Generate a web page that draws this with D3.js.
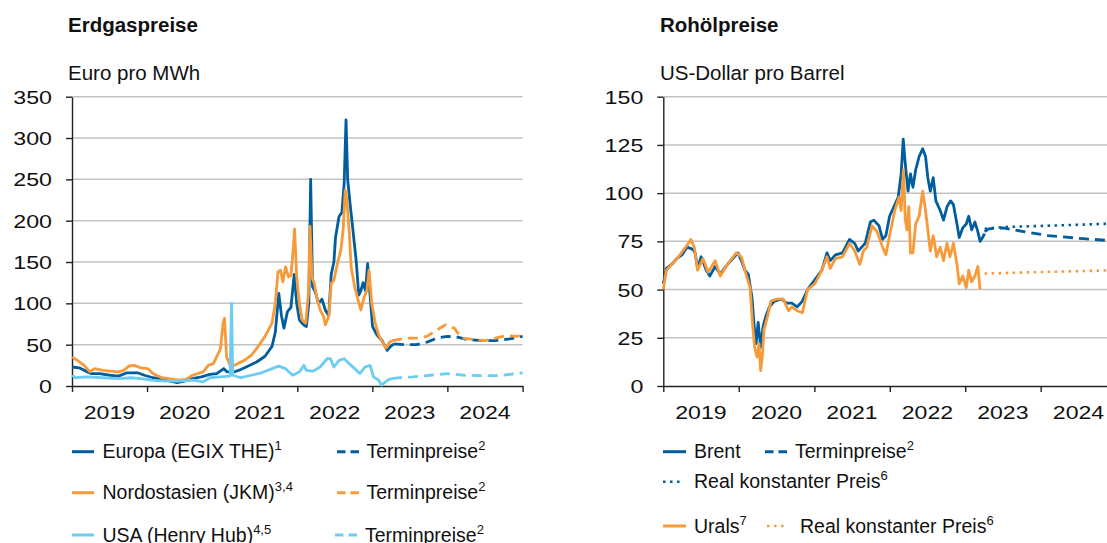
<!DOCTYPE html>
<html><head><meta charset="utf-8">
<script src="https://cdn.jsdelivr.net/npm/d3@7"></script>
<style>
html,body{margin:0;padding:0;background:#fff;overflow:hidden}
svg text{font-family:"Liberation Sans",Arial,sans-serif;fill:#111}
</style></head><body>
<svg id="c" width="1107" height="543"></svg>
<script>
// ---------- DATA ----------
const yearBounds = ["2019-01-01","2020-01-01","2021-01-01","2022-01-01","2023-01-01","2024-01-01","2025-01-01"];
const yearLabels = ["2019","2020","2021","2022","2023","2024"];
const gasTicks = [0,50,100,150,200,250,300,350];
const oilTicks = [0,25,50,75,100,125,150];

// Erdgas, Euro pro MWh
const europa = [["2019-01-02",23],["2019-02-05",22],["2019-03-10",18],["2019-04-03",15],["2019-05-15",15],["2019-07-04",13],["2019-08-15",12],["2019-09-26",16],["2019-11-16",16],["2019-12-19",13],["2020-01-30",10],["2020-03-13",8],["2020-04-23",6],["2020-05-27",4],["2020-06-29",6],["2020-08-10",9],["2020-09-21",11],["2020-11-02",14],["2020-12-05",15],["2021-01-08",21],["2021-01-25",17],["2021-02-28",17],["2021-04-01",20],["2021-05-05",24],["2021-06-17",29],["2021-07-28",36],["2021-08-31",48],["2021-09-16",65],["2021-10-03",112],["2021-10-16",85],["2021-10-28",70],["2021-11-14",90],["2021-12-01",95],["2021-12-17",135],["2021-12-29",100],["2022-01-11",80],["2022-01-28",75],["2022-02-14",72],["2022-02-26",100],["2022-03-07",250],["2022-03-16",120],["2022-03-28",115],["2022-04-14",100],["2022-05-01",105],["2022-05-17",92],["2022-06-03",85],["2022-06-15",135],["2022-06-28",150],["2022-07-06",180],["2022-07-23",205],["2022-08-06",210],["2022-08-17",245],["2022-08-26",322],["2022-09-03",250],["2022-09-15",220],["2022-09-28",190],["2022-10-15",150],["2022-10-27",110],["2022-11-06",115],["2022-11-17",125],["2022-11-29",115],["2022-12-09",148],["2022-12-21",110],["2023-01-02",72],["2023-01-23",62],["2023-02-17",55],["2023-03-14",43],["2023-03-31",48],["2023-04-16",51]];
const europaTermin = [["2023-04-16",51],["2023-06-06",50],["2023-08-03",50],["2023-09-23",53],["2023-11-12",58],["2024-01-01",60],["2024-02-20",59],["2024-04-11",56],["2024-06-16",55],["2024-08-22",55],["2024-10-30",57],["2025-01-01",60]];
const jkm = [["2019-01-02",35],["2019-01-27",31],["2019-03-01",25],["2019-03-29",17],["2019-04-20",21],["2019-06-01",19],["2019-07-04",18],["2019-08-15",17],["2019-09-10",19],["2019-10-05",24],["2019-10-30",25],["2019-12-03",22],["2020-01-05",21],["2020-01-30",15],["2020-03-13",10],["2020-04-15",9],["2020-06-04",7],["2020-07-08",8],["2020-08-10",13],["2020-09-30",17],["2020-10-25",25],["2020-11-19",27],["2020-12-23",45],["2021-01-05",76],["2021-01-12",82],["2021-01-22",35],["2021-02-11",23],["2021-03-16",27],["2021-04-18",31],["2021-05-22",37],["2021-06-25",48],["2021-07-28",60],["2021-08-31",76],["2021-09-16",100],["2021-09-29",138],["2021-10-11",140],["2021-10-23",126],["2021-11-05",144],["2021-11-19",132],["2021-12-01",134],["2021-12-12",165],["2021-12-19",190],["2021-12-29",132],["2022-01-11",100],["2022-01-25",80],["2022-02-11",76],["2022-02-24",112],["2022-03-04",193],["2022-03-13",132],["2022-03-25",124],["2022-04-05",108],["2022-04-22",92],["2022-05-09",84],["2022-05-17",74],["2022-06-03",84],["2022-06-15",124],["2022-06-28",128],["2022-07-15",148],["2022-08-01",165],["2022-08-12",189],["2022-08-22",237],["2022-08-30",225],["2022-09-10",189],["2022-09-20",144],["2022-10-07",120],["2022-10-24",104],["2022-11-06",92],["2022-11-23",108],["2022-12-06",116],["2022-12-16",140],["2022-12-29",100],["2023-01-15",76],["2023-02-01",62],["2023-02-17",54],["2023-03-09",46],["2023-03-23",52],["2023-04-07",55]];
const jkmTermin = [["2023-04-07",55],["2023-06-15",58],["2023-08-12",58],["2023-09-23",60],["2023-11-12",68],["2023-12-24",74],["2024-02-04",70],["2024-03-08",58],["2024-05-14",56],["2024-07-03",55],["2024-08-22",58],["2024-10-12",61],["2024-12-01",60],["2025-01-01",61]];
const henryHub = [["2019-01-02",13],["2019-01-19",10],["2019-03-10",11],["2019-06-01",10],["2019-08-24",9],["2019-10-13",10],["2019-12-03",9],["2020-01-22",7],["2020-03-30",6],["2020-06-04",6],["2020-08-10",7],["2020-09-30",5],["2020-11-02",10],["2020-12-23",11],["2021-02-08",12],["2021-02-15",100],["2021-02-21",13],["2021-04-01",10],["2021-05-22",13],["2021-07-11",16],["2021-08-31",21],["2021-10-03",24],["2021-11-05",21],["2021-12-09",13],["2022-01-11",17],["2022-02-02",25],["2022-02-14",19],["2022-03-19",18],["2022-04-22",23],["2022-05-26",33],["2022-06-11",33],["2022-06-28",23],["2022-07-23",31],["2022-08-17",33],["2022-09-11",27],["2022-10-07",21],["2022-11-01",15],["2022-11-26",23],["2022-12-21",25],["2023-01-07",11],["2023-02-01",7],["2023-02-14",1],["2023-03-06",5],["2023-03-23",8],["2023-04-07",9]];
const henryHubTermin = [["2023-04-07",9],["2023-05-12",10],["2023-07-17",11],["2023-10-08",13],["2024-01-01",15],["2024-03-24",13],["2024-06-16",12.5],["2024-09-09",12.5],["2025-01-01",16]];

// Rohöl, US-Dollar pro Barrel
const brent = [["2019-01-01",53],["2019-01-16",61],["2019-02-10",63],["2019-03-07",66],["2019-04-01",68],["2019-04-26",72],["2019-05-22",71],["2019-06-04",69],["2019-06-16",61],["2019-07-03",67],["2019-07-28",60],["2019-08-14",57],["2019-09-09",62],["2019-10-04",58],["2019-11-07",63],["2019-12-11",67],["2019-12-28",69],["2020-01-14",65],["2020-01-31",60],["2020-02-16",58],["2020-03-05",46],["2020-03-15",32],["2020-03-25",22],["2020-04-04",33],["2020-04-16",20],["2020-04-28",31],["2020-05-11",36],["2020-05-28",41],["2020-06-22",44],["2020-07-26",45],["2020-08-20",43],["2020-09-14",43],["2020-10-10",41],["2020-11-04",44],["2020-11-29",50],["2021-01-03",55],["2021-02-06",60],["2021-03-03",69],["2021-03-19",65],["2021-04-13",68],["2021-05-17",69],["2021-06-20",76],["2021-07-15",74],["2021-08-01",70],["2021-08-18",72],["2021-09-04",74],["2021-09-29",85],["2021-10-16",86],["2021-11-10",83],["2021-11-27",76],["2021-12-13",78],["2021-12-31",88],["2022-01-25",94],["2022-02-11",98],["2022-02-25",110],["2022-03-07",128],["2022-03-17",115],["2022-03-30",101],["2022-04-11",110],["2022-04-23",103],["2022-05-06",112],["2022-05-23",119],["2022-06-09",123],["2022-06-23",119],["2022-07-04",108],["2022-07-16",101],["2022-07-30",108],["2022-08-12",96],["2022-09-02",91],["2022-09-18",86],["2022-10-05",93],["2022-10-22",96],["2022-11-05",94],["2022-11-22",84],["2022-12-03",77],["2022-12-20",82],["2023-01-06",84],["2023-01-18",88],["2023-02-01",81],["2023-02-17",85],["2023-03-03",80],["2023-03-14",75],["2023-03-26",77],["2023-04-05",79]];
const brentTermin = [["2023-04-05",80],["2023-04-25",81.5],["2023-07-01",82],["2023-08-20",81],["2024-02-06",78],["2024-07-24",76.4],["2024-11-16",75.5],["2025-01-01",75]];
const brentReal = [["2023-04-05",81.5],["2023-07-01",82.4],["2024-02-06",83.1],["2024-11-16",84.1],["2025-01-01",84.3]];
const urals = [["2019-01-01",50],["2019-01-16",60],["2019-02-10",63],["2019-03-15",67],["2019-04-26",73],["2019-05-14",76],["2019-05-31",72],["2019-06-16",60],["2019-07-12",66],["2019-08-06",59],["2019-09-09",65],["2019-10-04",57],["2019-11-07",63],["2019-12-20",69],["2020-01-14",67],["2020-02-08",57],["2020-02-25",51],["2020-03-08",32],["2020-03-18",20],["2020-03-30",15],["2020-04-08",22],["2020-04-16",8],["2020-04-24",15],["2020-05-02",29],["2020-05-19",36],["2020-06-05",44],["2020-06-30",45],["2020-08-04",45],["2020-08-29",39],["2020-09-14",41],["2020-10-10",39],["2020-11-04",38],["2020-11-29",50],["2021-01-03",53],["2021-02-06",60],["2021-03-03",67],["2021-03-19",61],["2021-04-13",66],["2021-05-17",67],["2021-06-20",74],["2021-07-15",70],["2021-08-09",63],["2021-08-26",70],["2021-09-12",72],["2021-10-07",83],["2021-11-01",80],["2021-11-27",72],["2021-12-13",68],["2021-12-31",78],["2022-01-25",91],["2022-02-15",98],["2022-02-25",91],["2022-03-08",112],["2022-03-17",86],["2022-03-25",81],["2022-04-03",93],["2022-04-11",69],["2022-04-23",69],["2022-05-06",84],["2022-05-23",88],["2022-06-09",101],["2022-06-23",91],["2022-07-04",81],["2022-07-16",70],["2022-07-30",78],["2022-08-16",67],["2022-09-02",72],["2022-09-18",65],["2022-10-05",74],["2022-10-19",67],["2022-11-05",74],["2022-11-22",63],["2022-12-03",53],["2022-12-20",57],["2023-01-06",51],["2023-01-18",60],["2023-02-01",54],["2023-02-17",57],["2023-03-03",62],["2023-03-14",50]];
const uralsReal = [["2023-04-05",58.3],["2024-02-06",59.2],["2025-01-01",60]];

// ---------- STYLE ----------
const C_BLUE = "#005d9e", C_ORANGE = "#f79a3a", C_LIGHT = "#6ccdf3";
const DASH = "10,6", DOT = "2.5,4.5";
const parse = d3.timeParse("%Y-%m-%d");
const svg = d3.select("#c");
svg.append("rect").attr("width",1107).attr("height",543).attr("fill","#fff");

function panel(opt){
  const g = svg.append("g");
  const x = d3.scaleTime().domain([parse(yearBounds[0]), parse(yearBounds[6])]).range([opt.x0, opt.x1]);
  const y = d3.scaleLinear().domain([0, d3.max(opt.ticks)]).range([386, 96.7]);
  // title & unit
  g.append("text").attr("x", opt.tx).attr("y", 32).attr("font-size", 20.5).attr("font-weight","bold").text(opt.title);
  g.append("text").attr("x", opt.tx).attr("y", 80).attr("font-size", 20.5).text(opt.unit);
  // grid
  g.append("g").selectAll("line").data(opt.ticks.filter(d=>d>0)).join("line")
    .attr("x1", opt.x0).attr("x2", opt.x1).attr("y1", d=>y(d)).attr("y2", d=>y(d))
    .attr("stroke","#c2c2c2").attr("stroke-width",1.5);
  // y axis
  const ya = g.append("g").attr("transform",`translate(${opt.x0},0)`)
    .call(d3.axisLeft(y).tickValues(opt.ticks).tickSize(6).tickSizeOuter(0).tickPadding(14));
  ya.selectAll("text").attr("font-size",18).attr("font-family",null).attr("fill","#111")
    .attr("textLength", d=>String(d).length*12.9).attr("lengthAdjust","spacingAndGlyphs").attr("dy","0.36em");
  ya.selectAll("line, path").attr("stroke","#222").attr("stroke-width",1.4);
  ya.attr("font-family",null);
  // x axis
  const xa = g.append("g").attr("transform","translate(0,386)")
    .call(d3.axisBottom(x).tickValues(yearBounds.map(parse)).tickSize(6).tickSizeOuter(0).tickFormat(""));
  xa.selectAll("line, path").attr("stroke","#222").attr("stroke-width",1.4);
  g.append("g").selectAll("text").data(yearLabels).join("text")
    .attr("x", d=>x(parse(d+"-07-02"))).attr("y", 419).attr("text-anchor","middle")
    .attr("font-size",18).attr("textLength", 51.3).attr("lengthAdjust","spacingAndGlyphs").text(d=>d);
  const line = d3.line().x(d=>x(parse(d[0]))).y(d=>y(d[1])).curve(d3.curveLinear);
  opt.series.forEach(s=>{
    g.append("path").datum(s.data).attr("d", line).attr("fill","none")
      .attr("stroke", s.color).attr("stroke-width", s.dash===DOT?2.6:2.8)
      .attr("stroke-linejoin","round").attr("stroke-dasharray", s.dash || null);
  });
  return g;
}

panel({x0:72, x1:522.6, tx:68, ticks:gasTicks, title:"Erdgaspreise", unit:"Euro pro MWh",
  series:[
    {data:europa, color:C_BLUE},
    {data:jkm, color:C_ORANGE},
    {data:henryHub, color:C_LIGHT},
    {data:europaTermin, color:C_BLUE, dash:DASH},
    {data:jkmTermin, color:C_ORANGE, dash:DASH},
    {data:henryHubTermin, color:C_LIGHT, dash:DASH}
  ]});
panel({x0:663.3, x1:663.3+453, tx:660, ticks:oilTicks, title:"Rohölpreise", unit:"US-Dollar pro Barrel",
  series:[
    {data:brent, color:C_BLUE},
    {data:urals, color:C_ORANGE},
    {data:brentTermin, color:C_BLUE, dash:DASH},
    {data:brentReal, color:C_BLUE, dash:DOT},
    {data:uralsReal, color:C_ORANGE, dash:DOT}
  ]});

// ---------- LEGENDS ----------
const lg = svg.append("g");
function item(x, y, len, color, dash, tx, label, sup){
  lg.append("line").attr("x1",x).attr("x2",x+len).attr("y1",y).attr("y2",y)
    .attr("stroke",color).attr("stroke-width", dash===DOT?2.6:3).attr("stroke-dasharray", dash===DASH?"8.5,5":(dash||null));
  const t = lg.append("text").attr("x",tx).attr("y",y+6.5).attr("font-size",19.5).text(label);
  if(sup) t.append("tspan").attr("font-size",13).attr("dy",-8).text(sup);
}
item(72, 451.7, 22, C_BLUE, null, 102.5, "Europa (EGIX THE)", "1");
item(337, 451.7, 22, C_BLUE, DASH, 366.5, "Terminpreise", "2");
item(72, 492.7, 22, C_ORANGE, null, 102.5, "Nordostasien (JKM)", "3,4");
item(337, 492.7, 22, C_ORANGE, DASH, 366.5, "Terminpreise", "2");
item(72, 535, 22, C_LIGHT, null, 102.5, "USA (Henry Hub)", "4,5");
item(335, 535, 22, C_LIGHT, DASH, 365, "Terminpreise", "2");

item(663, 451.7, 23, C_BLUE, null, 694, "Brent", null);
item(765, 451.7, 22, C_BLUE, DASH, 795, "Terminpreise", "2");
item(663, 481.7, 21, C_BLUE, DOT, 694, "Real konstanter Preis", "6");
item(663, 526, 23, C_ORANGE, null, 694, "Urals", "7");
item(767, 526, 21, C_ORANGE, DOT, 800, "Real konstanter Preis", "6");
</script>
</body></html>
